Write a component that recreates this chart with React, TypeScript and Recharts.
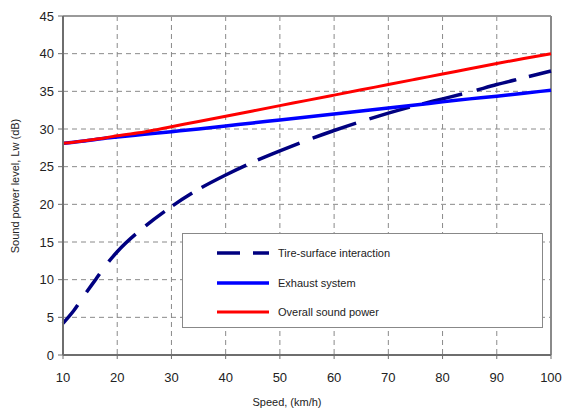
import { LineChart, Line, XAxis, YAxis, CartesianGrid, Legend, ReferenceLine } from 'recharts';

// speed (km/h)
const speeds = [10, 12, 14, 16, 18, 20, 25, 30, 35, 40, 45, 50, 55, 60, 65, 70, 75, 80, 85, 90, 95, 100];

// sound power level, Lw (dB)
const tireSurface = [4.2, 5.9, 8.0, 10.0, 12.0, 13.7, 17.0, 19.7, 22.0, 23.9, 25.6, 27.1, 28.5, 29.8, 31.0, 32.1, 33.1, 34.0, 34.9, 35.9, 36.8, 37.7];
const exhaust = [28.1, 28.25, 28.4, 28.6, 28.8, 28.95, 29.3, 29.65, 30.0, 30.4, 30.8, 31.2, 31.6, 32.0, 32.4, 32.8, 33.2, 33.6, 34.0, 34.35, 34.75, 35.15];
const overall = [28.1, 28.25, 28.45, 28.65, 28.85, 29.1, 29.6, 30.3, 31.0, 31.7, 32.4, 33.1, 33.8, 34.5, 35.2, 35.9, 36.6, 37.3, 38.0, 38.7, 39.35, 40.0];

const xTicks = [10, 20, 30, 40, 50, 60, 70, 80, 90, 100];
const yTicks = [0, 5, 10, 15, 20, 25, 30, 35, 40, 45];

const seriesNames = ['Tire-surface interaction', 'Exhaust system', 'Overall sound power'];

const data = speeds.map((s, i) => ({
  speed: s,
  tire: tireSurface[i],
  exhaust: exhaust[i],
  overall: overall[i],
}));

const FONT = '"Liberation Sans", Arial, sans-serif';
// dashes get longer along the curve in the original
const tireDash = '23.6 15.4 22.5 15.2 38.6 13 24 10 23 11 50 12.6 45 14 46 14 42 13 41 15 41 13 40 13';

const series = [
  { key: 'tire', name: seriesNames[0], color: '#000080', width: 3.5, dash: tireDash, legendDash: '23 13' },
  { key: 'exhaust', name: seriesNames[1], color: '#0000ff', width: 3.5, dash: undefined, legendDash: undefined },
  { key: 'overall', name: seriesNames[2], color: '#ff0000', width: 3, dash: undefined, legendDash: undefined },
];

const LegendBox = () => (
  <div
    style={{
      width: 361,
      height: 95,
      border: '1px solid #888',
      background: '#fff',
      boxSizing: 'border-box',
      position: 'relative',
      fontFamily: FONT,
      fontSize: 11,
      color: '#222',
    }}
  >
    {series.map((s, i) => (
      <div
        key={s.key}
        style={{ position: 'absolute', left: 34, top: 12 + i * 29.5, height: 14, display: 'flex', alignItems: 'center' }}
      >
        <svg width={53} height={8} style={{ display: 'block' }}>
          <line x1={0} y1={4} x2={52} y2={4} stroke={s.color} strokeWidth={s.width} strokeDasharray={s.legendDash} />
        </svg>
        <span style={{ marginLeft: 8, whiteSpace: 'nowrap' }}>{s.name}</span>
      </div>
    ))}
  </div>
);

export default function App() {
  return (
    <div style={{ position: 'absolute', left: 0, top: 0, background: '#fff' }}>
      <LineChart width={563} height={409} data={data} margin={{ top: 16, right: 12, left: 0, bottom: 0 }}>
        <CartesianGrid stroke="#8a8a8a" strokeDasharray="5 4" />
        <ReferenceLine y={45} stroke="#9a9a9a" strokeWidth={2} />
        <ReferenceLine x={100} stroke="#8a8a8a" strokeWidth={2} />
        <XAxis
          dataKey="speed"
          type="number"
          domain={[10, 100]}
          ticks={xTicks}
          height={54}
          axisLine={{ stroke: '#6e6e6e', strokeWidth: 2 }}
          tickLine={{ stroke: '#6e6e6e' }}
          tickSize={4}
          tickMargin={14}
          tick={{ fill: '#222', fontSize: 13, fontFamily: FONT }}
          label={{
            content: () => (
              <text x={287} y={402} textAnchor="middle" dominantBaseline="central" fontSize={11} fontFamily={FONT} fill="#222">
                Speed, (km/h)
              </text>
            ),
          }}
        />
        <YAxis
          type="number"
          domain={[0, 45]}
          ticks={yTicks}
          width={63}
          axisLine={{ stroke: '#6e6e6e', strokeWidth: 2 }}
          tickLine={{ stroke: '#6e6e6e' }}
          tickSize={5}
          tickMargin={4}
          tick={{ fill: '#222', fontSize: 13, fontFamily: FONT }}
          label={{
            content: () => (
              <text
                x={15}
                y={186}
                transform="rotate(-90 15 186)"
                textAnchor="middle"
                dominantBaseline="central"
                fontSize={11}
                fontFamily={FONT}
                fill="#222"
              >
                Sound power level, Lw (dB)
              </text>
            ),
          }}
        />
        <Legend
          layout="horizontal"
          verticalAlign="middle"
          align="center"
          content={() => <LegendBox />}
          wrapperStyle={{ left: 182, top: 233, width: 361, height: 95 }}
        />
        {series.map((s) => (
          <Line
            key={s.key}
            type="monotone"
            dataKey={s.key}
            name={s.name}
            stroke={s.color}
            strokeWidth={s.width}
            strokeDasharray={s.dash}
            dot={false}
            activeDot={false}
            isAnimationActive={false}
          />
        ))}
      </LineChart>
    </div>
  );
}
